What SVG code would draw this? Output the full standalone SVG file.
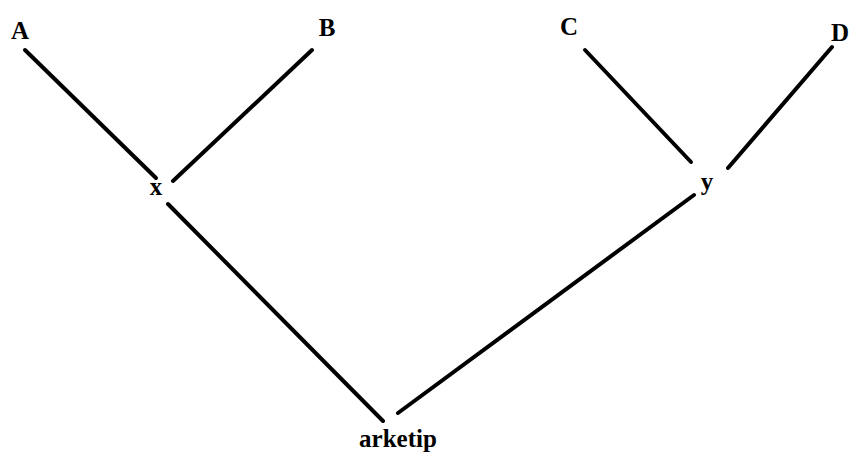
<svg xmlns="http://www.w3.org/2000/svg" width="850" height="453" viewBox="0 0 850 453">
<style>
.lbl{font-family:"Liberation Serif","Times New Roman",serif;font-weight:bold;font-size:25px;fill:#000}
.edge{stroke:#000;stroke-width:4;stroke-linecap:round;fill:none}
</style>
<rect width="850" height="453" fill="#fff"/>
<g id="connectors">
<line class="edge" x1="25" y1="50" x2="156" y2="178"/>
<line class="edge" x1="312" y1="50" x2="173" y2="181"/>
<line class="edge" x1="168" y1="204" x2="383" y2="421"/>
<line class="edge" x1="585" y1="50" x2="691" y2="162"/>
<line class="edge" x1="832" y1="47" x2="728" y2="168"/>
<line class="edge" x1="398" y1="413" x2="694" y2="195"/>
</g>
<g id="A"><text class="lbl" x="20" y="39" text-anchor="middle">A</text></g>
<g id="B"><text class="lbl" x="327" y="36" text-anchor="middle">B</text></g>
<g id="C"><text class="lbl" x="569" y="35" text-anchor="middle">C</text></g>
<g id="D"><text class="lbl" x="849" y="41" text-anchor="end">D</text></g>
<g id="x"><text class="lbl" x="156" y="195" text-anchor="middle">x</text></g>
<g id="y"><text class="lbl" x="707" y="190" text-anchor="middle">y</text></g>
<g id="arketip"><text class="lbl" x="398" y="447" text-anchor="middle">arketip</text></g>
</svg>
